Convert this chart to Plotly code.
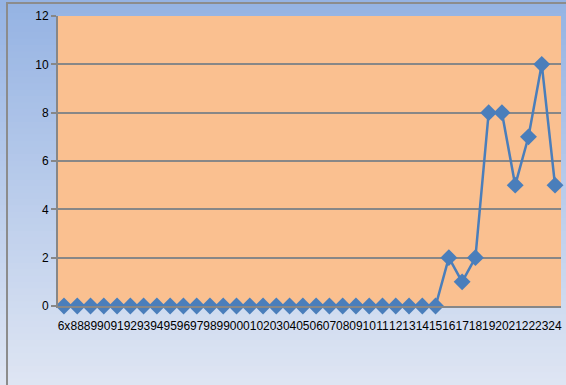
import plotly.graph_objects as go

categories = ["6x", "88", "89", "90", "91", "92", "93", "94", "95", "96", "97", "98", "99",
              "00", "01", "02", "03", "04", "05", "06", "07", "08", "09", "10", "11", "12",
              "13", "14", "15", "16", "17", "18", "19", "20", "21", "22", "23", "24"]
values = [0] * 29 + [2, 1, 2, 8, 8, 5, 7, 10, 5]
y_ticks = [0, 2, 4, 6, 8, 10, 12]

W, H = 566, 385
ML, MR, MT, MB = 58, 5, 16, 79
PW, PH = W - ML - MR, H - MT - MB

def px_x(p):
    return (p - ML) / PW

def px_y(p):
    return (H - MB - p) / PH

shapes = []
# vertical gradient background
top = (149, 179, 227)
bot = (222, 229, 243)
N = 60
for i in range(N):
    t = i / (N - 1)
    c = tuple(round(top[k] + (bot[k] - top[k]) * t) for k in range(3))
    y0 = i * H / N
    y1 = (i + 1) * H / N + 1
    shapes.append(dict(type="rect", xref="paper", yref="paper",
                       x0=px_x(-2), x1=px_x(W + 2), y0=px_y(y1), y1=px_y(y0),
                       fillcolor="rgb(%d,%d,%d)" % c, line=dict(width=0), layer="below"))
# chart border
shapes.append(dict(type="rect", xref="paper", yref="paper",
                   x0=px_x(7), x1=px_x(W + 10), y0=px_y(H + 10), y1=px_y(3),
                   line=dict(color="#8c8c8c", width=2), fillcolor="rgba(0,0,0,0)", layer="below"))
# plot area fill
shapes.append(dict(type="rect", xref="x domain", yref="y domain", x0=0, x1=1, y0=0, y1=1,
                   fillcolor="#FAC090", line=dict(width=0), layer="below"))

fig = go.Figure()
fig.add_trace(go.Scatter(
    x=categories, y=values, mode="lines+markers",
    line=dict(color="#4A7EBB", width=2.5),
    marker=dict(symbol="diamond", size=13, color="#4A7EBB"),
    cliponaxis=False, showlegend=False,
))

fig.update_layout(
    width=W, height=H,
    margin=dict(l=ML, r=MR, t=MT, b=MB),
    paper_bgcolor="#DCE4F2",
    plot_bgcolor="rgba(0,0,0,0)",
    shapes=shapes,
    font=dict(family="Liberation Sans, Arial, sans-serif", size=12, color="#000000"),
    xaxis=dict(
        type="category", categoryorder="array", categoryarray=categories,
        tickmode="array", tickvals=categories, ticktext=categories,
        range=[-0.45, 37.45], tickangle=0,
        showgrid=False, showline=True, linecolor="#878787", linewidth=2,
        ticks="outside", ticklen=8, tickcolor="rgba(0,0,0,0)",
        tickfont=dict(size=12),
    ),
    yaxis=dict(
        range=[0, 12], tickvals=y_ticks,
        showgrid=True, gridcolor="#878787", gridwidth=2,
        zeroline=False, showline=True, linecolor="#878787", linewidth=2,
        ticks="outside", ticklen=5, tickcolor="#878787", tickwidth=2,
        tickfont=dict(size=12),
    ),
)

fig.write_html("out.html", config={"displayModeBar": False},
               post_script="document.body.style.margin='0';document.body.style.overflow='hidden';")
